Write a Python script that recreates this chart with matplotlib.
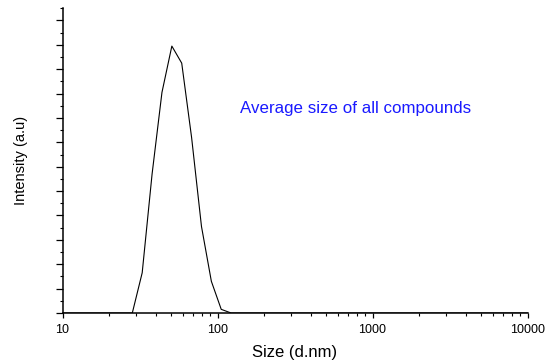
import numpy as np
import matplotlib
matplotlib.use('Agg')
import matplotlib.pyplot as plt
from matplotlib.ticker import LogLocator, MultipleLocator, NullFormatter, FixedFormatter, FixedLocator

plt.rcParams['font.family'] = ['Liberation Sans', 'DejaVu Sans']

# size distribution by intensity (Zetasizer bins, d.nm)
size_nm = [10, 24.36, 28.21, 32.67, 37.84, 43.82, 50.75, 58.77, 68.06,
           78.82, 91.28, 105.7, 122.4, 141.8, 10000]
intensity = [0, 0, 0, 3.3, 11.4, 18.1, 21.9, 20.5, 14.4,
             7.1, 2.6, 0.3, 0, 0, 0]

xticks = [10, 100, 1000, 10000]
xtick_labels = ['10', '100', '1000', '10000']
note = 'Average size of all compounds'

fig = plt.figure(figsize=(5.51, 3.62), dpi=100)
ax = fig.add_axes([62.5 / 551, 49 / 362, 465 / 551, 304.7 / 362])

ax.plot(size_nm, intensity, color='black', lw=0.8)

ax.set_xscale('log')
ax.set_xlim(10, 10000)
ax.set_ylim(0, 25)

ax.xaxis.set_major_locator(FixedLocator(xticks))
ax.xaxis.set_major_formatter(FixedFormatter(xtick_labels))
ax.xaxis.set_minor_locator(LogLocator(base=10, subs=np.arange(2, 10)))
ax.xaxis.set_minor_formatter(NullFormatter())

ax.yaxis.set_major_locator(MultipleLocator(2))
ax.yaxis.set_minor_locator(MultipleLocator(1))
ax.yaxis.set_major_formatter(NullFormatter())

for s in ['top', 'right']:
    ax.spines[s].set_visible(False)
for s in ['left', 'bottom']:
    ax.spines[s].set_linewidth(1.1)

ax.tick_params(axis='x', which='major', direction='out', length=3.6, width=0.9,
               labelsize=9, pad=4)
ax.tick_params(axis='x', which='minor', direction='out', length=2.2, width=0.8)
ax.tick_params(axis='y', which='major', direction='out', length=5, width=0.9)
ax.tick_params(axis='y', which='minor', direction='out', length=2.4, width=0.8)

ax.set_xlabel('Size (d.nm)', fontsize=12, labelpad=6.5)
ax.set_ylabel('Intensity (a.u)', fontsize=10.5, labelpad=16)

ax.text(140, 16.75, note, color='#1a1aff', fontsize=12.2, ha='left', va='center')

fig.savefig('out.png', dpi=100)
